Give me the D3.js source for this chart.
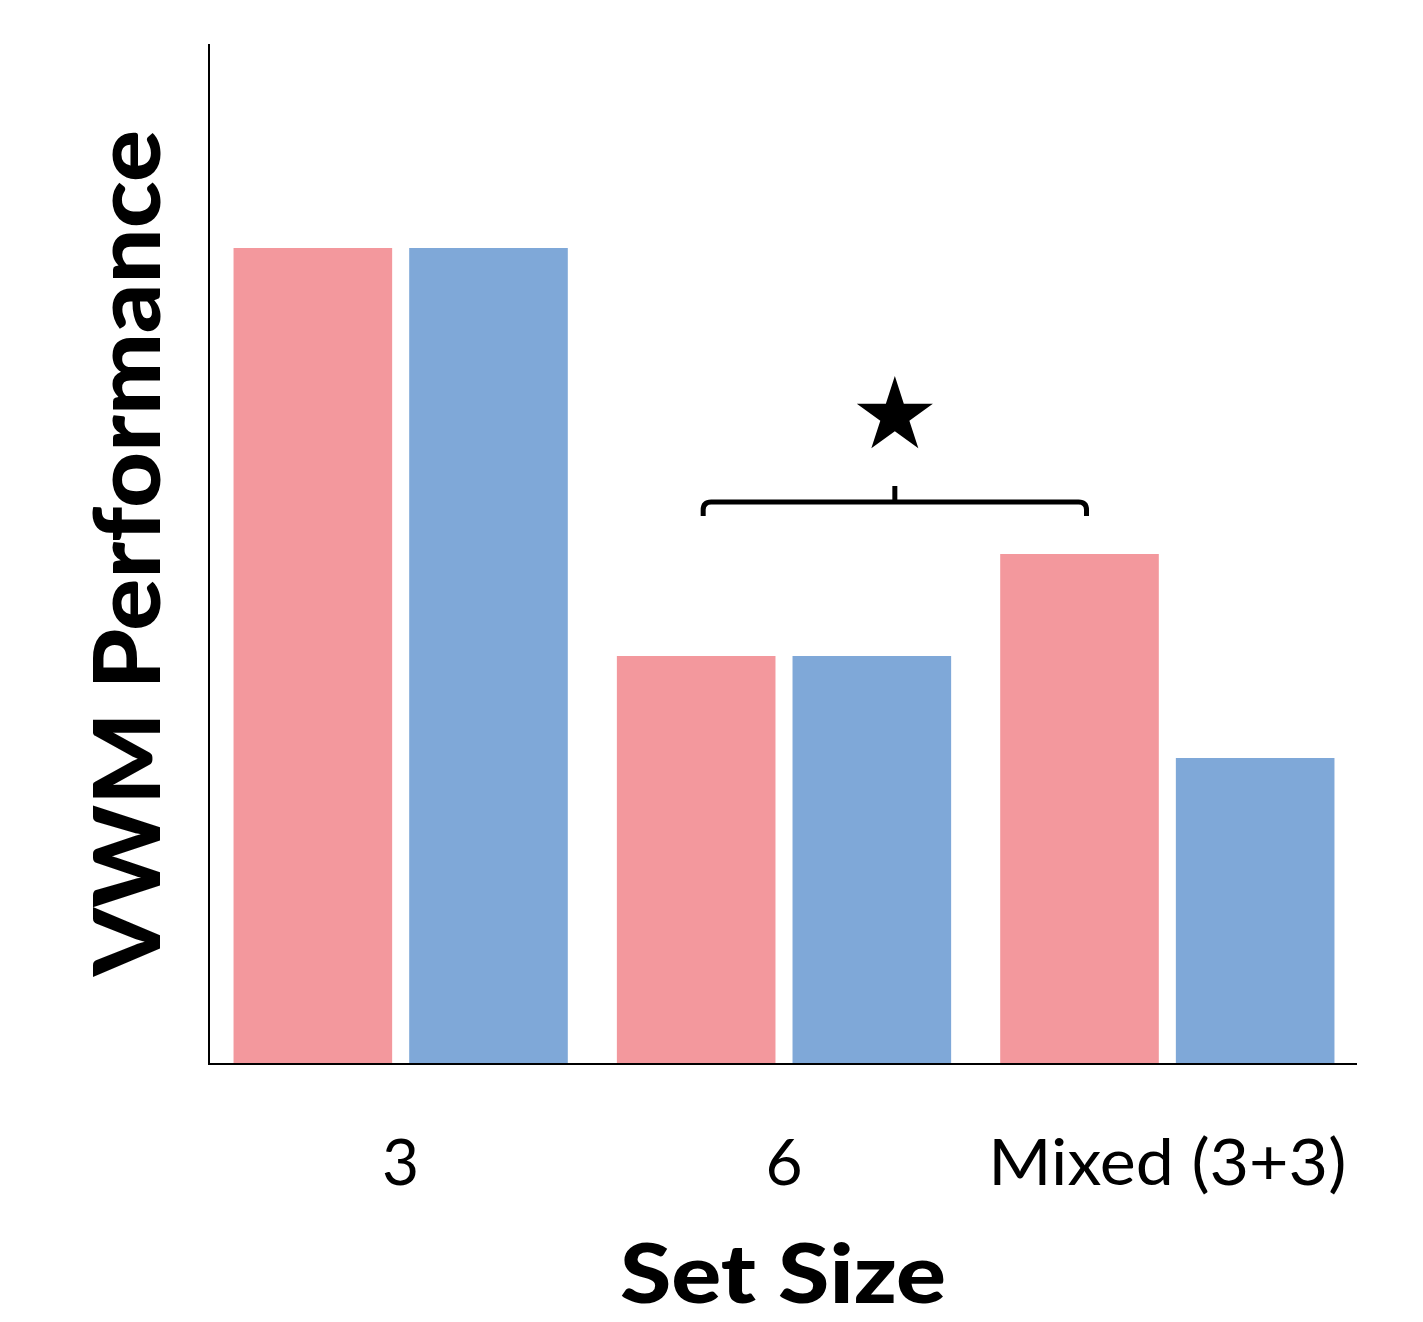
<!DOCTYPE html>
<html><head><meta charset="utf-8">
<script src="https://cdn.jsdelivr.net/npm/d3@7"></script>
<style>html,body{margin:0;padding:0;background:#fff;}</style>
</head><body>
<svg id="chart" width="1423" height="1322"></svg>
<script>
const categories = ["3", "6", "Mixed (3+3)"];
const seriesNames = ["pink", "blue"];
const pinkValues = [80, 40, 50];
const blueValues = [80, 40, 30];
const colors = ["#F3989D", "#7FA8D8"];
const xTitle = "Set Size";
const yTitle = "VWM Performance";

(function(){
const svg = d3.select("#chart");
const mLeft = 209, mRight = 1359, mTop = 44, mBottom = 1064;
const font = "Lato, 'Open Sans', sans-serif";

const x = d3.scaleBand().domain(categories).range([mLeft, mRight]).paddingInner(0.128).paddingOuter(0.064);
const xs = d3.scaleBand().domain(seriesNames).range([0, x.bandwidth()]).paddingInner(0.097);
const y = d3.scaleLinear().domain([0, 100]).range([mBottom, mTop]);

const data = categories.map((c, i) => ({cat: c, vals: [pinkValues[i], blueValues[i]]}));

const g = svg.append("g");
data.forEach(d => {
  d.vals.forEach((v, j) => {
    g.append("rect")
      .attr("x", x(d.cat) + xs(seriesNames[j]))
      .attr("y", y(v))
      .attr("width", xs.bandwidth())
      .attr("height", y(0) - y(v))
      .attr("fill", colors[j]);
  });
});

// axes
svg.append("line").attr("x1", mLeft).attr("x2", mLeft).attr("y1", mTop).attr("y2", mBottom + 1)
  .attr("stroke", "#000").attr("stroke-width", 2);
svg.append("line").attr("x1", mLeft - 1).attr("x2", 1357).attr("y1", mBottom).attr("y2", mBottom)
  .attr("stroke", "#000").attr("stroke-width", 2);

// tick labels
const xAxis = d3.axisBottom(x).tickSize(0).tickPadding(0);
const ax = svg.append("g").attr("transform", `translate(0,${mBottom})`).call(xAxis);
ax.select(".domain").remove();
ax.selectAll("text").attr("dy", null).attr("y", 121)
  .style("font-family", font).style("font-size", "64px").attr("fill", "#000")
  .each(function(d){ if (d === "Mixed (3+3)") d3.select(this).attr("textLength", 358).attr("lengthAdjust", "spacingAndGlyphs"); });

// axis titles
svg.append("text").attr("x", 783).attr("y", 1303).attr("text-anchor", "middle")
  .style("font-family", font).style("font-weight", "900").style("font-size", "82px")
  .attr("textLength", 326).attr("lengthAdjust", "spacingAndGlyphs").text(xTitle);
svg.append("text").attr("transform", "translate(160,553) rotate(-90)").attr("text-anchor", "middle")
  .style("font-family", font).style("font-weight", "900").style("font-size", "92px")
  .attr("textLength", 846).attr("lengthAdjust", "spacingAndGlyphs").text(yTitle);

// significance bracket between pink "6" and pink "Mixed"
const bx1 = x("6") + xs("pink") + xs.bandwidth() / 2 + 7;
const bx2 = x("Mixed (3+3)") + xs("pink") + xs.bandwidth() / 2 + 7;
const by = 502, r = 8;
const bm = (bx1 + bx2) / 2;
svg.append("path")
  .attr("d", `M${bx1},516 L${bx1},${by + r} Q${bx1},${by} ${bx1 + r},${by} L${bx2 - r},${by} Q${bx2},${by} ${bx2},${by + r} L${bx2},516`)
  .attr("fill", "none").attr("stroke", "#000").attr("stroke-width", 5);
svg.append("line").attr("x1", bm).attr("x2", bm).attr("y1", 486).attr("y2", by)
  .attr("stroke", "#000").attr("stroke-width", 5);

// star
const R = 40, ri = R * 0.382, cx = bm, cy = 416;
const pts = d3.range(10).map(i => {
  const rad = i % 2 === 0 ? R : ri;
  const a = -Math.PI / 2 + i * Math.PI / 5;
  return [cx + rad * Math.cos(a), cy + rad * Math.sin(a)];
});
svg.append("path").attr("d", "M" + pts.map(p => p.join(",")).join("L") + "Z").attr("fill", "#000");
})();
</script>
</body></html>
